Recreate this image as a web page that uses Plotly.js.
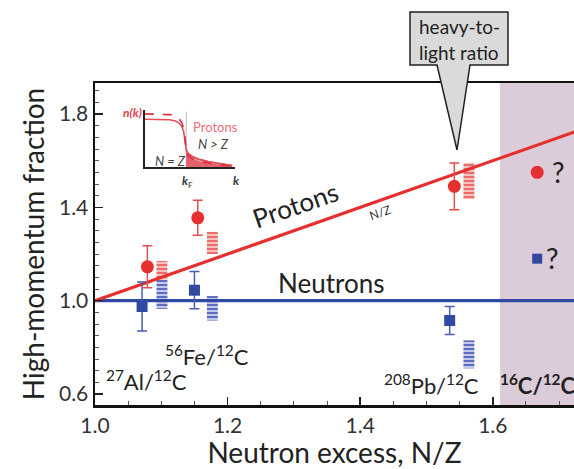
<!DOCTYPE html>
<html><head><meta charset="utf-8">
<script src="https://cdn.plot.ly/plotly-3.0.1.min.js"></script>
<style>html,body{margin:0;padding:0;background:#fff}#chart{width:574px;height:469px}</style>
</head><body><div id="chart"></div>
<script>
// ---- Measured high-momentum fractions (ratio to 12C) ----
const nucleusLabels = ['<sup>27</sup>Al/<sup>12</sup>C', '<sup>56</sup>Fe/<sup>12</sup>C', '<sup>208</sup>Pb/<sup>12</sup>C'];
const protonX = [1.079, 1.155, 1.542];
const protonY = [1.145, 1.355, 1.49];
const protonErr = [0.09, 0.075, 0.10];
const neutronX = [1.071, 1.150, 1.535];
const neutronY = [0.975, 1.045, 0.915];
const neutronErr = [0.105, 0.08, 0.06];
// ---- Predicted bands (hatched) ----
const bandX = [1.101, 1.177, 1.564];
const protonBandLow = [1.09, 1.20, 1.435];
const protonBandHigh = [1.17, 1.295, 1.59];
const neutronBandLow = [0.965, 0.915, 0.71];
const neutronBandHigh = [1.09, 1.02, 0.83];
// ---- Future 16C/12C measurement ----
const futureLabel = '<b><sup>16</sup>C/<sup>12</sup>C</b>';
const futureX = [1.667];
const futureProtonY = [1.55];
const futureNeutronY = [1.18];
// ---- Reference lines ----
const lineX = [1.0, 1.8];
const protonLineY = [1.0, 1.8];   // N/Z
const neutronLineY = [1.0, 1.0];  // 1
// ---- Inset: momentum distribution n(k) ----
const insetK = [0, 0.1, 0.2, 0.28, 0.34, 0.38, 0.41, 0.43, 0.445, 0.46, 0.48, 0.52, 0.6, 0.7, 0.8, 0.9, 0.97];
const insetSolid = [0.88, 0.88, 0.878, 0.87, 0.85, 0.81, 0.75, 0.66, 0.50, 0.32, 0.25, 0.20, 0.145, 0.10, 0.07, 0.045, 0.03];
const insetDashed = [0.98, 0.978, 0.975, 0.965, 0.94, 0.89, 0.82, 0.72, 0.55, 0.30, 0.21, 0.16, 0.105, 0.07, 0.045, 0.028, 0.018];
const kF = 0.46;

const RED = '#e5302f', BLUE = '#3149a0';
const tailStart = insetK.indexOf(kF);
const diff = (a, b) => a.map((v, i) => v - b[i]);

const traces = [
  {type:'bar', x:bandX, base:neutronBandLow, y:diff(neutronBandHigh, neutronBandLow), width:0.0165,
   marker:{color:'#c4c9ea', line:{width:0}, pattern:{shape:'-', fgcolor:'#5062b8', bgcolor:'#c4c9ea', size:4, solidity:0.45}}, hoverinfo:'skip'},
  {type:'bar', x:bandX, base:protonBandLow, y:diff(protonBandHigh, protonBandLow), width:0.0165,
   marker:{color:'#f6c0be', line:{width:0}, pattern:{shape:'-', fgcolor:'#ea6461', bgcolor:'#f6c0be', size:4, solidity:0.45}}, hoverinfo:'skip'},
  {type:'scatter', mode:'lines', x:lineX, y:neutronLineY, line:{color:BLUE, width:3.2}},
  {type:'scatter', mode:'lines', x:lineX, y:protonLineY, line:{color:RED, width:3.2}},
  {type:'scatter', mode:'markers', x:neutronX, y:neutronY, text:nucleusLabels,
   marker:{symbol:'square', size:11, color:BLUE},
   error_y:{type:'data', array:neutronErr, color:'#4a5fb0', thickness:1.5, width:5}},
  {type:'scatter', mode:'markers', x:protonX, y:protonY, text:nucleusLabels,
   marker:{symbol:'circle', size:13, color:RED},
   error_y:{type:'data', array:protonErr, color:'#e0504f', thickness:1.5, width:5}},
  {type:'scatter', mode:'markers', x:futureX, y:futureProtonY, marker:{symbol:'circle', size:13, color:RED}},
  {type:'scatter', mode:'markers', x:futureX, y:futureNeutronY, marker:{symbol:'square', size:10, color:BLUE}},
  // inset
  {type:'scatter', mode:'lines', xaxis:'x2', yaxis:'y2', x:[kF, kF], y:[0, 1.02], line:{color:'#aaa', width:0.8}},
  {type:'scatter', mode:'lines', xaxis:'x2', yaxis:'y2', x:insetK.slice(tailStart), y:insetSolid.slice(tailStart),
   fill:'tozeroy', fillcolor:'rgba(240,150,158,0.75)', line:{color:'#e2505a', width:1.6}},
  {type:'scatter', mode:'lines', xaxis:'x2', yaxis:'y2', x:insetK.slice(tailStart), y:insetDashed.slice(tailStart),
   fill:'tozeroy', fillcolor:'rgba(226,70,80,0.75)', line:{width:0}},
  {type:'scatter', mode:'lines', xaxis:'x2', yaxis:'y2', x:insetK, y:insetSolid, line:{color:'#e2505a', width:1.6}},
  {type:'scatter', mode:'lines', xaxis:'x2', yaxis:'y2', x:insetK, y:insetDashed, line:{color:'#d83040', width:1.6, dash:'dash'}}
];

const px = p => (p - 95) / 479, py = p => (405 - p) / 322;
const ann = (text, x, y, size, opts) => Object.assign({text, x:px(x), y:py(y), xref:'paper', yref:'paper', showarrow:false,
  font:{size, color:'#222', family:'Lato, sans-serif'}, xanchor:'center', yanchor:'middle'}, opts || {});

const annotations = [
  ann('Protons', 295, 205, 26, {textangle:-19}),
  ann('N/Z', 380, 212, 12, {textangle:-19, font:{size:12, color:'#333', family:'Lato, sans-serif'}}),
  ann('Neutrons', 331, 283, 26),
  ann(nucleusLabels[0], 146, 380, 22),
  ann(nucleusLabels[1], 207, 355, 22),
  ann(nucleusLabels[2], 431, 384, 22),
  ann(futureLabel, 498, 384, 22, {xanchor:'left'}),
  ann('?', 558, 172, 28),
  ann('?', 552, 258, 28),
  ann('heavy-to-', 459, 27, 19),
  ann('light ratio', 459, 52, 19),
  // inset labels
  ann('<b><i>n(k)</i></b>', 132, 113, 12, {font:{size:12, color:'#e0404a', family:'Lato, sans-serif'}}),
  ann('Protons', 215, 127, 13, {font:{size:13, color:'#ea7078', family:'Lato, sans-serif'}}),
  ann('<i>N > Z</i>', 213, 144, 13, {font:{size:13, color:'#444', family:'Lato, sans-serif'}}),
  ann('<i>N = Z</i>', 170, 161, 13, {font:{size:13, color:'#444', family:'Lato, sans-serif'}}),
  ann('<b><i>k</i></b><sub>F</sub>', 187, 181, 12, {font:{size:12, color:'#333', family:'Lato, sans-serif'}}),
  ann('<b><i>k</i></b>', 236, 180, 12, {font:{size:12, color:'#333', family:'Lato, sans-serif'}})
];

const shapes = [
  {type:'rect', xref:'x', yref:'paper', x0:1.611, x1:1.8, y0:0, y1:1, fillcolor:'#dccbd8', line:{width:0}, layer:'below'},
  {type:'path', xref:'paper', yref:'paper', layer:'above',
   path:`M ${px(410)},${py(12)} L ${px(508)},${py(12)} L ${px(508)},${py(65)} L ${px(470)},${py(65)} L ${px(457)},${py(150)} L ${px(437)},${py(65)} L ${px(410)},${py(65)} Z`,
   fillcolor:'#dadada', line:{color:'#222', width:1.5}}
];

const layout = {
  width:574, height:469,
  margin:{l:95, r:0, t:83, b:64},
  paper_bgcolor:'#ffffff', plot_bgcolor:'#ffffff',
  font:{family:'Lato, sans-serif', color:'#222'},
  showlegend:false, barmode:'overlay', hovermode:false,
  xaxis:{range:[1.0, 1.7225], tick0:1.0, dtick:0.2, tickformat:'.1f', ticks:'inside', ticklen:8, tickwidth:1.5, tickcolor:'#222',
    showline:true, linecolor:'#111', linewidth:2.5, mirror:true, showgrid:false, zeroline:false,
    tickfont:{size:21, color:'#333'}, minor:{dtick:0.05, ticks:'inside', ticklen:4, tickcolor:'#555', tickwidth:1},
    title:{text:'Neutron excess, N/Z', font:{size:28, color:'#222'}, standoff:4}},
  yaxis:{range:[0.553, 1.933], tick0:0.6, dtick:0.4, tickformat:'.1f', ticks:'inside', ticklen:8, tickwidth:1.5, tickcolor:'#222',
    showline:true, linecolor:'#111', linewidth:2.5, showgrid:false, zeroline:false,
    tickfont:{size:21, color:'#333'}, minor:{dtick:0.05, ticks:'inside', ticklen:4, tickcolor:'#555', tickwidth:1},
    title:{text:'High-momentum fraction', font:{size:28, color:'#222'}, standoff:6}},
  xaxis2:{domain:[0.104, 0.292], anchor:'y2', range:[0, 1.0], showline:true, linecolor:'#222', linewidth:1.5,
    showticklabels:false, ticks:'', showgrid:false, zeroline:false},
  yaxis2:{domain:[0.739, 0.916], anchor:'x2', range:[0, 1.05], showline:true, linecolor:'#222', linewidth:1.5,
    showticklabels:false, ticks:'', showgrid:false, zeroline:false},
  annotations, shapes
};

Plotly.newPlot('chart', traces, layout, {staticPlot:true, displayModeBar:false});
</script></body></html>
